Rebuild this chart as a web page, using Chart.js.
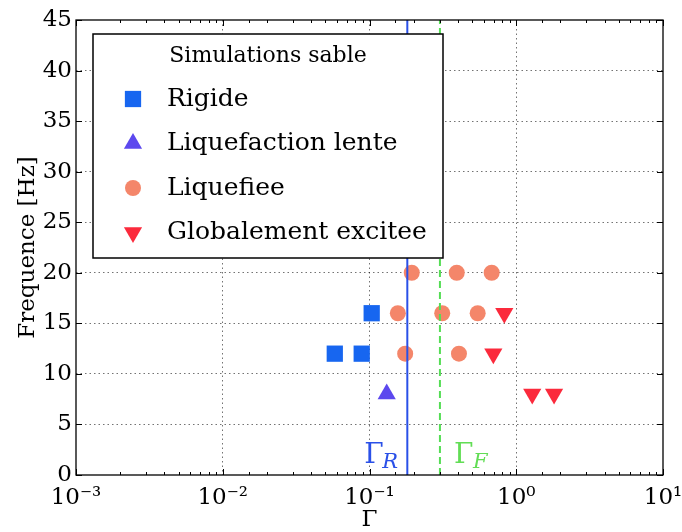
<!DOCTYPE html>
<html>
<head>
<meta charset="utf-8">
<script src="https://cdn.jsdelivr.net/npm/chart.js@4/dist/chart.umd.min.js"></script>
<style>
  html, body { margin: 0; padding: 0; background: #fff; }
  #wrap { width: 682px; height: 532px; }
</style>
</head>
<body>
<div id="wrap"><canvas id="chart" width="682" height="532"></canvas></div>
<script>
// values (Gamma, frequency in Hz)
const rigideX = [0.058, 0.0885, 0.1035];
const rigideY = [12, 12, 16];
const lenteX = [0.131];
const lenteY = [8];
const liquefieeX = [0.194, 0.393, 0.68, 0.156, 0.313, 0.546, 0.175, 0.407];
const liquefieeY = [20, 20, 20, 16, 16, 16, 12, 12];
const exciteeX = [0.829, 0.698, 1.285, 1.81];
const exciteeY = [16, 12, 8, 8];

const gammaR = 0.181;
const gammaF = 0.302;

const xTickLabels = ["10\u207B\u00B3", "10\u207B\u00B2", "10\u207B\u00B9", "10\u2070", "10\u00B9"];
const yTickStep = 5;
const legendTitle = "Simulations sable";

const SERIF = "'DejaVu Serif', serif";

const pts = (xs, ys) => xs.map((x, i) => ({ x, y: ys[i] }));
const isDecade = v => Math.abs(Math.log10(v) - Math.round(Math.log10(v))) < 1e-9;

// frame, inside tick marks, Gamma labels and the legend box
const decorations = {
  id: "decorations",
  afterDraw(chart) {
    const { ctx, chartArea: a, scales: { x, y } } = chart;
    ctx.save();

    // inside ticks
    ctx.strokeStyle = "#000";
    ctx.lineWidth = 1;
    ctx.beginPath();
    x.ticks.forEach(t => {
      const px = Math.round(x.getPixelForValue(t.value)) + 0.5;
      const len = isDecade(t.value) ? 6 : 3;
      ctx.moveTo(px, a.bottom); ctx.lineTo(px, a.bottom - len);
      ctx.moveTo(px, a.top); ctx.lineTo(px, a.top + len);
    });
    y.ticks.forEach(t => {
      const py = Math.round(y.getPixelForValue(t.value)) + 0.5;
      ctx.moveTo(a.left, py); ctx.lineTo(a.left + 6, py);
      ctx.moveTo(a.right, py); ctx.lineTo(a.right - 6, py);
    });
    ctx.stroke();

    // frame
    ctx.lineWidth = 1.3;
    ctx.strokeRect(a.left, a.top, a.right - a.left, a.bottom - a.top);

    // Gamma_R / Gamma_F labels
    const base = y.getPixelForValue(0);
    const pr = x.getPixelForValue(gammaR);
    const pf = x.getPixelForValue(gammaF);
    ctx.textBaseline = "alphabetic";
    ctx.textAlign = "left";
    ctx.fillStyle = "#2a50e8";
    ctx.font = "28px " + SERIF;
    ctx.fillText("\u0393", pr - 43, base - 12);
    ctx.font = "italic 21px " + SERIF;
    ctx.fillText("R", pr - 25, base - 7);
    ctx.fillStyle = "#62dd55";
    ctx.font = "28px " + SERIF;
    ctx.fillText("\u0393", pf + 14, base - 12);
    ctx.font = "italic 21px " + SERIF;
    ctx.fillText("F", pf + 33, base - 7);

    // legend
    const box = { left: 93, top: 34, right: 443, bottom: 258 };
    ctx.fillStyle = "#fff";
    ctx.fillRect(box.left, box.top, box.right - box.left, box.bottom - box.top);
    ctx.lineWidth = 1.5;
    ctx.strokeStyle = "#000";
    ctx.strokeRect(box.left, box.top, box.right - box.left, box.bottom - box.top);

    ctx.fillStyle = "#000";
    ctx.textAlign = "center";
    ctx.textBaseline = "middle";
    ctx.font = "22px " + SERIF;
    ctx.fillText(legendTitle, (box.left + box.right) / 2, box.top + 22);

    const scatter = chart.data.datasets.filter(d => d.type === "scatter");
    ctx.textAlign = "left";
    ctx.font = "25px " + SERIF;
    scatter.forEach((d, i) => {
      const cy = box.top + 65 + i * 44.5;
      ctx.fillStyle = d.backgroundColor;
      Chart.helpers.drawPoint(ctx, {
        pointStyle: d.pointStyle,
        radius: d.pointRadius,
        rotation: d.pointRotation || 0,
        borderWidth: 0
      }, box.left + 40, cy);
      ctx.fillStyle = "#000";
      ctx.fillText(d.label, box.left + 74, cy);
    });

    ctx.restore();
  }
};

new Chart(document.getElementById("chart"), {
  data: {
    datasets: [
      {
        type: "line", label: "GammaR", order: 0,
        data: [{ x: gammaR, y: 0 }, { x: gammaR, y: 45 }],
        borderColor: "#2a50e8", borderWidth: 2, pointRadius: 0
      },
      {
        type: "line", label: "GammaF", order: 0,
        data: [{ x: gammaF, y: 0 }, { x: gammaF, y: 45 }],
        borderColor: "#55dd55", borderWidth: 2, borderDash: [7, 4], pointRadius: 0
      },
      {
        type: "scatter", label: "Rigide", order: 1,
        data: pts(rigideX, rigideY),
        backgroundColor: "#1766f0", borderWidth: 0,
        pointStyle: "rect", pointRadius: 11.5
      },
      {
        type: "scatter", label: "Liquefaction lente", order: 1,
        data: pts(lenteX, lenteY),
        backgroundColor: "#5c48ee", borderWidth: 0,
        pointStyle: "triangle", pointRadius: 10.5
      },
      {
        type: "scatter", label: "Liquefiee", order: 1,
        data: pts(liquefieeX, liquefieeY),
        backgroundColor: "#f4866a", borderWidth: 0,
        pointStyle: "circle", pointRadius: 8
      },
      {
        type: "scatter", label: "Globalement excitee", order: 1,
        data: pts(exciteeX, exciteeY),
        backgroundColor: "#fb2a3c", borderWidth: 0,
        pointStyle: "triangle", pointRotation: 180, pointRadius: 10.5
      }
    ]
  },
  options: {
    responsive: false,
    animation: false,
    events: [],
    layout: { padding: { top: 20, right: 19, left: 0, bottom: 0 } },
    plugins: { legend: { display: false }, tooltip: { enabled: false } },
    scales: {
      x: {
        type: "logarithmic",
        min: 0.001,
        max: 10,
        afterFit: s => { s.height = 57; s.paddingLeft = 0; s.paddingRight = 0; },
        border: { display: false, dash: [1.5, 3] },
        grid: {
          drawTicks: false,
          lineWidth: 1,
          color: c => (c.tick && isDecade(c.tick.value) && c.tick.value > 0.001 && c.tick.value < 10)
            ? "rgba(0,0,0,0.55)" : "rgba(0,0,0,0)"
        },
        ticks: {
          autoSkip: false,
          maxRotation: 0,
          padding: 9,
          color: "#000",
          font: { family: SERIF, size: 23 },
          callback: v => isDecade(v) ? xTickLabels[Math.round(Math.log10(v)) + 3] : ""
        },
        title: {
          display: true, text: "\u0393", color: "#000",
          font: { family: SERIF, size: 23, lineHeight: 1 },
          padding: { top: 0, bottom: 0 }
        }
      },
      y: {
        min: 0,
        max: 45,
        afterFit: s => { s.width = 76; s.paddingTop = 0; s.paddingBottom = 0; },
        border: { display: false, dash: [1.5, 3] },
        grid: {
          drawTicks: false,
          lineWidth: 1,
          color: c => (c.tick && c.tick.value > 0 && c.tick.value < 45)
            ? "rgba(0,0,0,0.55)" : "rgba(0,0,0,0)"
        },
        ticks: {
          stepSize: yTickStep,
          padding: 4,
          color: "#000",
          font: { family: SERIF, size: 23 }
        },
        title: {
          display: true, text: "Frequence [Hz]", color: "#000",
          font: { family: SERIF, size: 23, lineHeight: 1 },
          padding: { top: 17, bottom: 0 }
        }
      }
    }
  },
  plugins: [decorations]
});
</script>
</body>
</html>
